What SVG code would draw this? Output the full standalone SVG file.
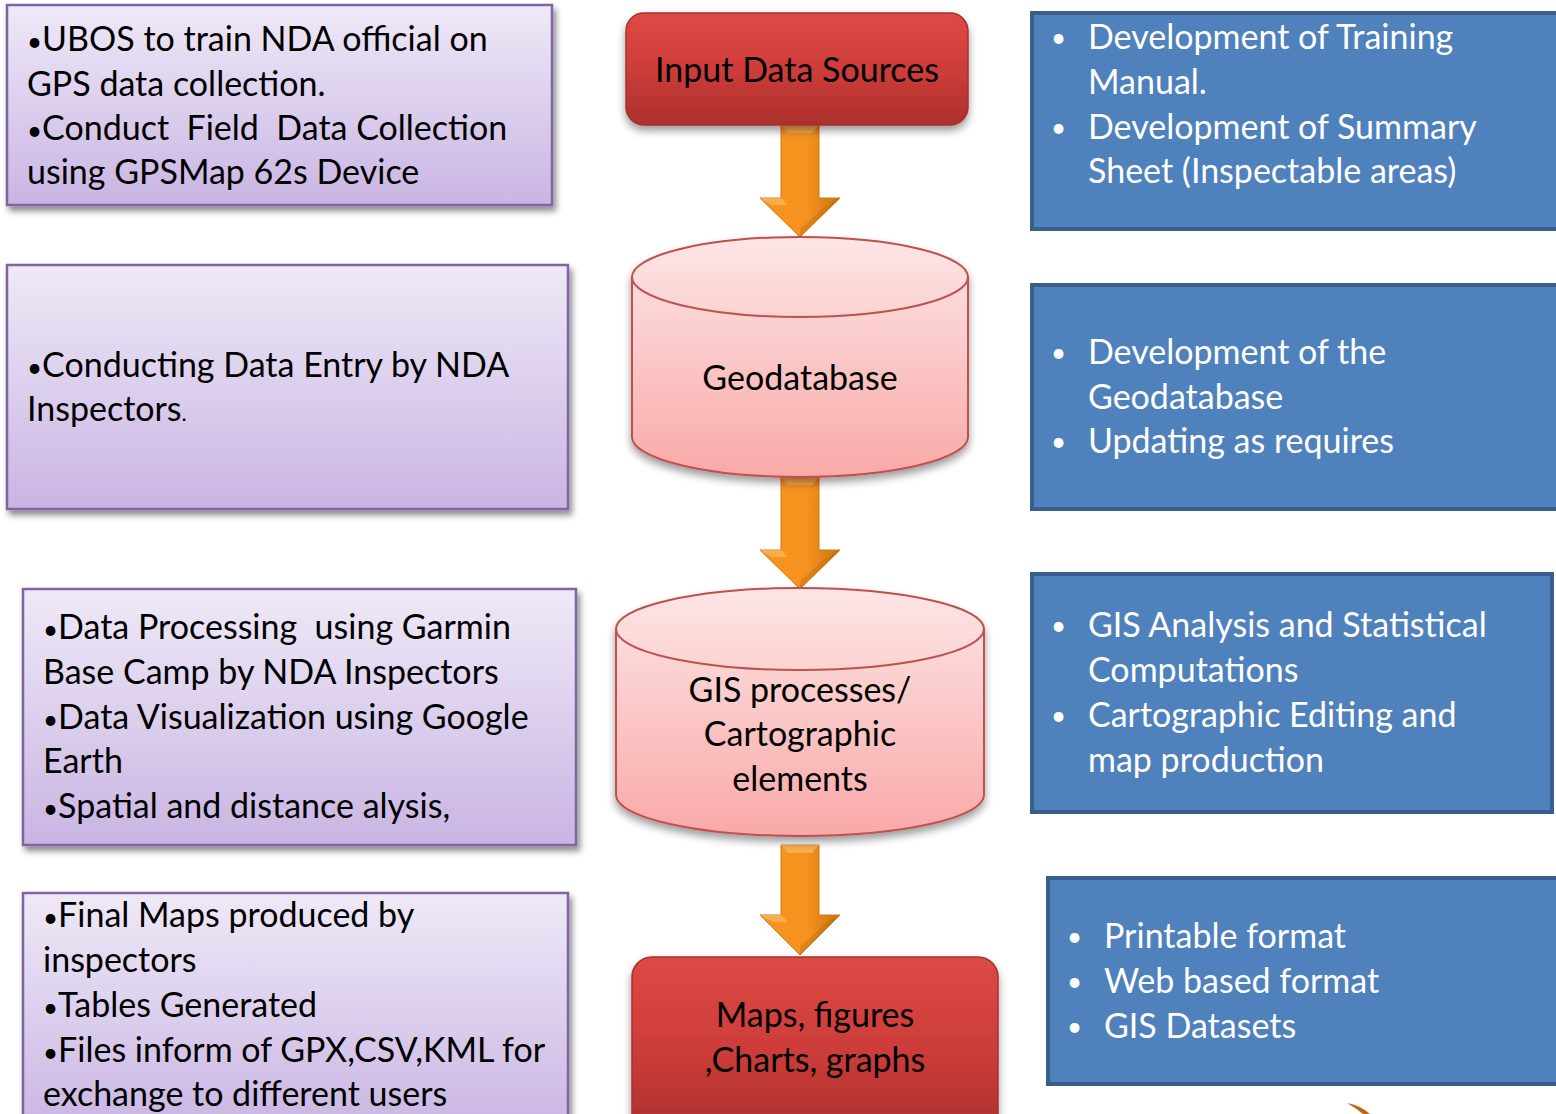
<svg xmlns="http://www.w3.org/2000/svg" width="1556" height="1114" viewBox="0 0 1556 1114">
<defs>
<linearGradient id="purp" x1="0" y1="0" x2="0" y2="1">
<stop offset="0" stop-color="#efe9f7"/><stop offset="1" stop-color="#c9b5e3"/>
</linearGradient>
<linearGradient id="red" x1="0" y1="0" x2="0" y2="1">
<stop offset="0" stop-color="#dc4a45"/><stop offset="0.5" stop-color="#cd3d3a"/><stop offset="1" stop-color="#ab2f2d"/>
</linearGradient>
<linearGradient id="cyl" x1="0" y1="0" x2="0" y2="1">
<stop offset="0" stop-color="#fde6e6"/><stop offset="1" stop-color="#f9a9a8"/>
</linearGradient>
<linearGradient id="org" x1="0" y1="0" x2="1" y2="0">
<stop offset="0" stop-color="#f3a04a"/><stop offset="0.15" stop-color="#f7941d"/><stop offset="0.6" stop-color="#f5921f"/><stop offset="1" stop-color="#c9730f"/>
</linearGradient>
<filter id="sh" x="-10%" y="-10%" width="125%" height="130%">
<feGaussianBlur in="SourceAlpha" stdDeviation="3"/>
<feOffset dx="3" dy="5" result="b"/>
<feComponentTransfer><feFuncA type="linear" slope="0.45"/></feComponentTransfer>
<feMerge><feMergeNode/><feMergeNode in="SourceGraphic"/></feMerge>
</filter>
<filter id="sh2" x="-10%" y="-10%" width="125%" height="130%">
<feGaussianBlur in="SourceAlpha" stdDeviation="4"/>
<feOffset dx="0" dy="5"/>
<feComponentTransfer><feFuncA type="linear" slope="0.4"/></feComponentTransfer>
<feMerge><feMergeNode/><feMergeNode in="SourceGraphic"/></feMerge>
</filter>
</defs>
<style>
text{font-family:Lato,"Open Sans","Liberation Sans",sans-serif;font-size:34px;white-space:pre;}
.pb{fill:url(#purp);stroke:#8064a2;stroke-width:2.5;filter:url(#sh);}
.bb{fill:#4f81bd;stroke:#3a5f8c;stroke-width:4;}
.rb{fill:url(#red);stroke:#a8302e;stroke-width:1.5;filter:url(#sh2);}
.cy{fill:url(#cyl);stroke:#c0504d;stroke-width:2;filter:url(#sh2);}
.cyt{fill:none;stroke:#c0504d;stroke-width:2;}
.ar{fill:url(#org);stroke:#d07a15;stroke-width:1;}
.hl{fill:#fbb35d;opacity:0.8;}
.dd{fill:#b8650c;opacity:0.35;}
.dk{fill:#000;}
.wt{fill:#fff;}
.ct{text-anchor:middle;}
.bu{font-size:26px;}
</style>
<rect width="1556" height="1114" fill="#fff"/>

<g id="connectors">
<polygon class="ar" points="781,125 819,125 819,198 840,198 800,237 760,198 781,198"/>
<polygon class="hl" points="781,125 819,125 812,133 788,133"/>
<polygon class="hl" points="760,198 781,198 788,205 773,205"/>
<polygon class="dd" points="840,198 800,237 800,229 827,205"/>
<polygon class="ar" points="781,477 819,477 819,550 840,550 800,589 760,550 781,550"/>
<polygon class="hl" points="781,477 819,477 812,485 788,485"/>
<polygon class="hl" points="760,550 781,550 788,557 773,557"/>
<polygon class="dd" points="840,550 800,589 800,581 827,557"/>
<polygon class="ar" points="781,845 819,845 819,915 840,915 800,955 760,915 781,915"/>
<polygon class="hl" points="781,845 819,845 812,853 788,853"/>
<polygon class="hl" points="760,915 781,915 788,922 773,922"/>
<polygon class="dd" points="840,915 800,955 800,947 827,922"/>
</g>

<g id="n-input">
<rect class="rb" x="626" y="13" width="342" height="112" rx="18"/>
<text class="dk ct" x="797" y="82">Input Data Sources</text>
</g>

<g id="n-geodb">
<path class="cy" d="M632,277 A168,40 0 0 1 968,277 L968,437 A168,40 0 0 1 632,437 Z"/>
<path class="cyt" d="M632,277 A168,40 0 0 0 968,277"/>
<text class="dk ct" x="800" y="390">Geodatabase</text>
</g>

<g id="n-gis">
<path class="cy" d="M616,629 A184,41 0 0 1 984,629 L984,795 A184,41 0 0 1 616,795 Z"/>
<path class="cyt" d="M616,629 A184,41 0 0 0 984,629"/>
<text class="dk ct" x="800" y="702">GIS processes/</text>
<text class="dk ct" x="800" y="746">Cartographic</text>
<text class="dk ct" x="800" y="791">elements</text>
</g>

<g id="n-maps">
<rect class="rb" x="632" y="957" width="366" height="180" rx="20"/>
<text class="dk ct" x="815" y="1027">Maps, figures</text>
<text class="dk ct" x="815" y="1072">,Charts, graphs</text>
</g>

<g id="n-p1">
<rect class="pb" x="7" y="5" width="545" height="200"/>
<text class="dk" x="27" y="51"><tspan class="bu">•</tspan>UBOS to train NDA official on</text>
<text class="dk" x="27" y="96">GPS data collection.</text>
<text class="dk" x="27" y="140"><tspan class="bu">•</tspan>Conduct  Field  Data Collection</text>
<text class="dk" x="27" y="184">using GPSMap 62s Device</text>
</g>

<g id="n-p2">
<rect class="pb" x="7" y="265" width="561" height="244"/>
<text class="dk" x="27" y="377"><tspan class="bu">•</tspan>Conducting Data Entry by NDA</text>
<text class="dk" x="27" y="421">Inspectors<tspan font-size="22">.</tspan></text>
</g>

<g id="n-p3">
<rect class="pb" x="23" y="589" width="553" height="256"/>
<text class="dk" x="43" y="639"><tspan class="bu">•</tspan>Data Processing  using Garmin</text>
<text class="dk" x="43" y="684">Base Camp by NDA Inspectors</text>
<text class="dk" x="43" y="729"><tspan class="bu">•</tspan>Data Visualization using Google</text>
<text class="dk" x="43" y="773">Earth</text>
<text class="dk" x="43" y="818"><tspan class="bu">•</tspan>Spatial and distance alysis,</text>
</g>

<g id="n-p4">
<rect class="pb" x="23" y="893" width="545" height="240"/>
<text class="dk" x="43" y="927"><tspan class="bu">•</tspan>Final Maps produced by</text>
<text class="dk" x="43" y="972">inspectors</text>
<text class="dk" x="43" y="1017"><tspan class="bu">•</tspan>Tables Generated</text>
<text class="dk" x="43" y="1062"><tspan class="bu">•</tspan>Files inform of GPX,CSV,KML for</text>
<text class="dk" x="43" y="1106">exchange to different users</text>
</g>

<g id="n-b1">
<rect class="bb" x="1032" y="13" width="530" height="216"/>
<text class="wt bu" x="1051" y="47">•</text><text class="wt" x="1088" y="49">Development of Training</text>
<text class="wt" x="1088" y="94">Manual.</text>
<text class="wt bu" x="1051" y="137">•</text><text class="wt" x="1088" y="139">Development of Summary</text>
<text class="wt" x="1088" y="183">Sheet (Inspectable areas)</text>
</g>

<g id="n-b2">
<rect class="bb" x="1032" y="285" width="530" height="224"/>
<text class="wt bu" x="1051" y="362">•</text><text class="wt" x="1088" y="364">Development of the</text>
<text class="wt" x="1088" y="409">Geodatabase</text>
<text class="wt bu" x="1051" y="451">•</text><text class="wt" x="1088" y="453">Updating as requires</text>
</g>

<g id="n-b3">
<rect class="bb" x="1032" y="574" width="520" height="238"/>
<text class="wt bu" x="1051" y="635">•</text><text class="wt" x="1088" y="637">GIS Analysis and Statistical</text>
<text class="wt" x="1088" y="682">Computations</text>
<text class="wt bu" x="1051" y="725">•</text><text class="wt" x="1088" y="727">Cartographic Editing and</text>
<text class="wt" x="1088" y="772">map production</text>
</g>

<g id="n-b4">
<rect class="bb" x="1048" y="878" width="514" height="206"/>
<text class="wt bu" x="1067" y="946">•</text><text class="wt" x="1104" y="948">Printable format</text>
<text class="wt bu" x="1067" y="991">•</text><text class="wt" x="1104" y="993">Web based format</text>
<text class="wt bu" x="1067" y="1036">•</text><text class="wt" x="1104" y="1038">GIS Datasets</text>
</g>

<path d="M1347,1103 Q1362,1106 1370,1114 L1363,1114 Q1356,1108 1347,1103 Z" fill="#c8660f"/>
</svg>
